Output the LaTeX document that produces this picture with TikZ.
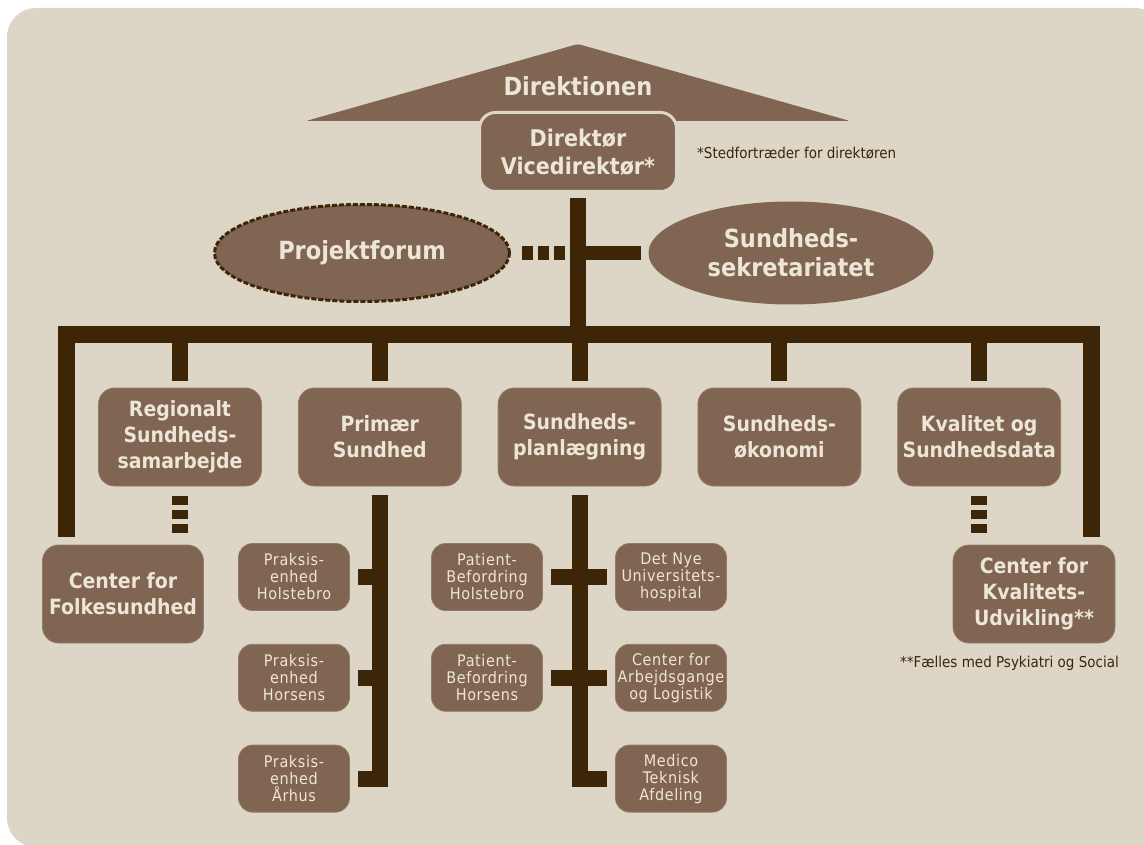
\documentclass[tikz,border=0pt]{standalone}
\usepackage{fontspec}
\setmainfont{DejaVu Sans Condensed}
\usetikzlibrary{shapes.geometric,positioning}
\definecolor{bakgrund}{HTML}{DDD6C6}
\definecolor{kasse}{HTML}{7F6552}
\definecolor{linje}{HTML}{3D2608}
\definecolor{tekst}{HTML}{EDE6D6}
\begin{document}
\begin{tikzpicture}[x=1pt, y=-1pt,
        every node/.style={text=tekst, align=center, inner sep=0pt},
        hoved/.style={rectangle, rounded corners=16pt, fill=kasse, draw=kasse!80!bakgrund, line width=0.8pt,
            minimum width=163pt, minimum height=98pt, font=\bfseries\fontsize{21}{26}\selectfont},
        enhed/.style={rectangle, rounded corners=14pt, fill=kasse, draw=kasse!80!bakgrund, line width=0.8pt,
            minimum width=111pt, minimum height=67pt, font=\fontsize{16}{17}\selectfont\addfontfeature{LetterSpace=4}},
        oval/.style={ellipse, fill=kasse, font=\bfseries\fontsize{25}{29}\selectfont},
        bjaelke/.style={draw=linje, line width=16pt, line join=miter},
        stiplet/.style={bjaelke, dash pattern=on 9pt off 5pt},
        notetekst/.style={text=linje, font=\fontsize{15}{17}\selectfont, anchor=west}
    ]
        % Vẽ nền
        \useasboundingbox (0,0) rectangle (1144,845);
        \fill[bakgrund, rounded corners=29pt] (7,8) rectangle (1164,847);

        % Mái nhà và giám đốc
        \fill[kasse, rounded corners=3pt] (306,121) -- (578,44) -- (850,121) -- cycle;
        \node[font=\bfseries\fontsize{25}{29}\selectfont] (direktion) at (578,86) {Direktionen};
        \node[hoved, minimum width=197pt, minimum height=79pt, draw=bakgrund, line width=3pt,
            font=\bfseries\fontsize{23}{28}\selectfont] (direktor) at (578,152) {Direktør\\Vicedirektør*};
        \node[notetekst] (stedfortraeder) at (697,153) {*Stedfortræder for direktøren};

        % Hai hình bầu dục
        \node[oval, minimum width=295pt, minimum height=97pt, draw=linje, line width=3pt,
            dash pattern=on 5pt off 2pt] (projekt) at (362,253) {Projektforum};
        \node[oval, minimum width=285pt, minimum height=103pt] (sekretariat) at (791,253) {Sundheds-\\sekretariatet};

        % Các hộp chính
        \node[hoved] (regional) at (180,437) {Regionalt\\Sundheds-\\samarbejde};
        \node[hoved, right=36pt of regional] (primaer) {Primær\\Sundhed};
        \node[hoved, right=36pt of primaer] (planl) {Sundheds-\\planlægning};
        \node[hoved, right=36pt of planl] (oekonomi) {Sundheds-\\økonomi};
        \node[hoved, right=36pt of oekonomi] (kvalitet) {Kvalitet og\\Sundhedsdata};
        \node[hoved, minimum width=161pt] (folke) at (123,594) {Center for\\Folkesundhed};
        \node[hoved, minimum width=162pt] (kvalcenter) at (1034,594) {Center for\\Kvalitets-\\Udvikling**};
        \node[notetekst, anchor=east] (faelles) at (1119,663) {**Fælles med Psykiatri og Social};

        % Các hộp nhỏ
        \node[enhed] (praks1) at (294,577) {Praksis-\\enhed\\Holstebro};
        \node[enhed, below=33pt of praks1] (praks2) {Praksis-\\enhed\\Horsens};
        \node[enhed, below=33pt of praks2] (praks3) {Praksis-\\enhed\\Århus};
        \node[enhed] (patient1) at (487,577) {Patient-\\Befordring\\Holstebro};
        \node[enhed, below=33pt of patient1] (patient2) {Patient-\\Befordring\\Horsens};
        \node[enhed] (nye) at (671,577) {Det Nye\\Universitets-\\hospital};
        \node[enhed, below=33pt of nye] (arbejd) {Center for\\Arbejdsgange\\og Logistik};
        \node[enhed, below=33pt of arbejd] (medico) {Medico\\Teknisk\\Afdeling};

        % Các thanh nối
        \coordinate (busV) at (66,334);
        \coordinate (busH) at (1091,334);
        \draw[bjaelke, line width=14pt, dash pattern=on 11pt off 5pt] ([xshift=11pt]projekt.east) -- (projekt.east -| direktor.south);
        \draw[bjaelke, line width=14pt] (sekretariat.west -| direktor.south) -- ([xshift=-7pt]sekretariat.west);
        \draw[bjaelke] ([yshift=-5pt]direktor.south) -- (direktor.south |- busV);
        \draw[bjaelke, line width=17pt] ([yshift=8pt]folke.north -| busV) -- (busV) -- (busH) -- ([yshift=8pt]kvalcenter.north -| busH);
        \foreach \n in {regional, primaer, planl, oekonomi, kvalitet}
            \draw[bjaelke] (\n.north |- busV) -- ([yshift=7pt]\n.north);
        \draw[stiplet] ([yshift=-10pt]regional.south) -- ([yshift=11pt]regional.south |- folke.north);
        \draw[stiplet] ([yshift=-10pt]kvalitet.south) -- ([yshift=11pt]kvalitet.south |- kvalcenter.north);

        \draw[bjaelke] ([yshift=-9pt]primaer.south) -- (primaer.south |- praks3.east) -- ([xshift=8pt]praks3.east);
        \foreach \p in {praks1, praks2}
            \draw[bjaelke] ([xshift=8pt]\p.east) -- (\p.east -| primaer.south);
        \draw[bjaelke] ([yshift=-9pt]planl.south) -- (planl.south |- medico.west) -- ([xshift=-8pt]medico.west);
        \draw[bjaelke] ([xshift=8pt]patient1.east) -- ([xshift=-8pt]nye.west);
        \draw[bjaelke] ([xshift=8pt]patient2.east) -- ([xshift=-8pt]arbejd.west);
    \end{tikzpicture}
\end{document}
